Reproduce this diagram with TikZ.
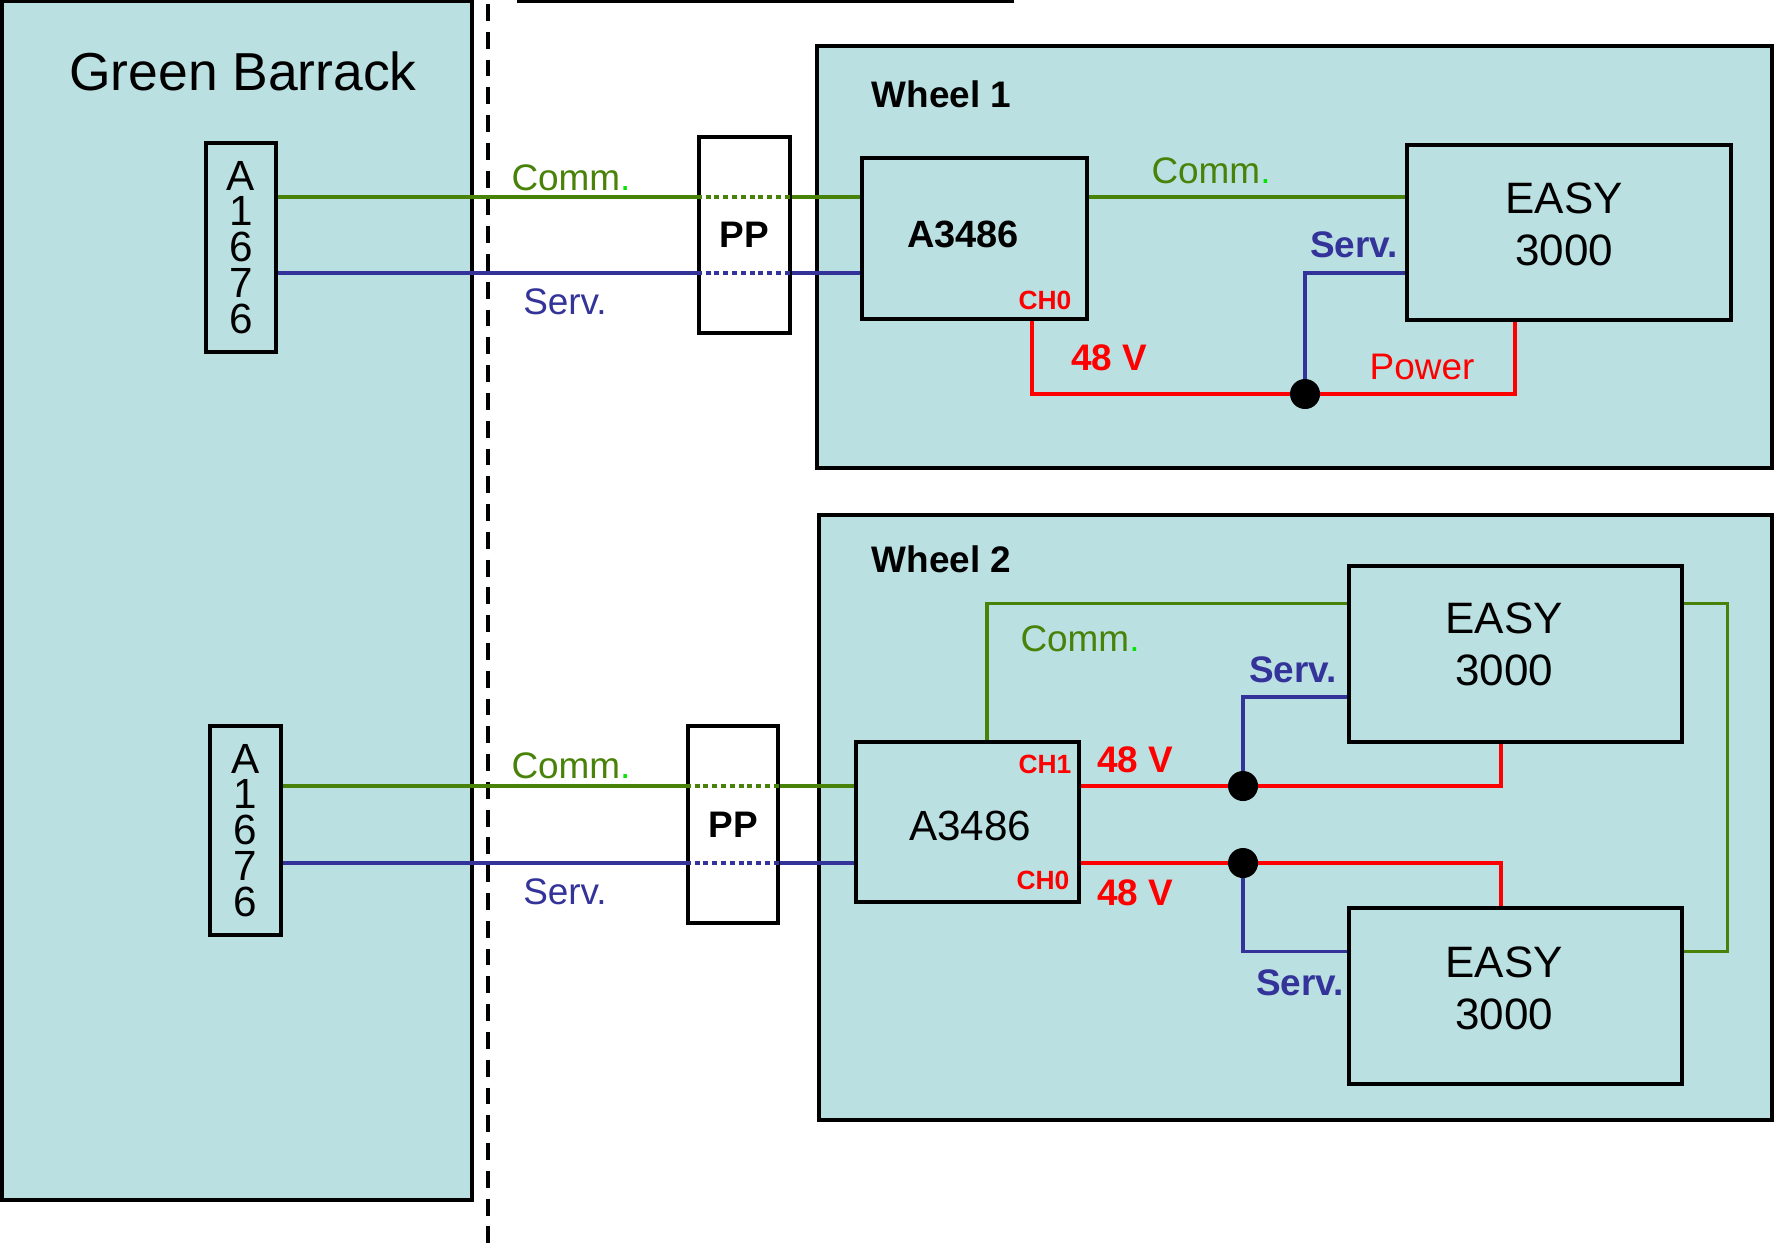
\documentclass[tikz,border=0pt]{standalone}
\usepackage{fontspec}
\setmainfont{Liberation Sans}
\usetikzlibrary{calc}

\definecolor{panelfill}{RGB}{186,224,226}
\definecolor{commgreen}{RGB}{72,130,8}
\definecolor{commdot}{RGB}{0,230,0}
\definecolor{servblue}{RGB}{51,51,153}
\definecolor{powred}{RGB}{255,0,0}

\newcommand{\commtxt}{Comm{\color{commdot}.}}

\begin{document}
\begin{tikzpicture}[x=0.01cm, y=-0.01cm,
  panel/.style={draw=black, fill=panelfill, line width=1.2pt, rectangle, inner sep=0pt},
  unit/.style={draw=black, fill=panelfill, line width=1.2pt, rectangle, inner sep=0pt},
  ppbox/.style={draw=black, fill=white, line width=1.2pt, rectangle, inner sep=0pt, font=\fontsize{10.5}{12}\selectfont\bfseries},
  wheeltitle/.style={inner sep=0pt, anchor=west, font=\fontsize{10.5}{12}\selectfont\bfseries},
  easytxt/.style={inner sep=0pt, align=center, font=\fontsize{12.5}{14.8}\selectfont},
  comm/.style={commgreen, line width=0.9pt},
  serv/.style={servblue, line width=0.9pt},
  pwr/.style={powred, line width=0.9pt},
  thru/.style={dash pattern=on 1.4pt off 1.1pt},
  commlbl/.style={inner sep=0pt, text=commgreen, font=\fontsize{10.5}{12}\selectfont},
  servlbl/.style={inner sep=0pt, text=servblue, font=\fontsize{10.5}{12}\selectfont},
  servbold/.style={inner sep=0pt, text=servblue, font=\fontsize{10.5}{12}\selectfont\bfseries},
  voltlbl/.style={inner sep=0pt, text=powred, font=\fontsize{10.5}{12}\selectfont\bfseries},
  powlbl/.style={inner sep=0pt, text=powred, font=\fontsize{10.5}{12}\selectfont},
  chtag/.style={inner sep=0pt, text=powred, font=\fontsize{7.5}{9}\selectfont\bfseries},
  junction/.style={circle, fill=black, inner sep=0pt, minimum size=0.3cm}]
  \useasboundingbox (0,0) rectangle (1774,1251);

  % barrack side
  \node[panel, minimum width=4.70cm, minimum height=11.99cm] (barrack) at (237,600.5) {};
  \node[inner sep=0pt, font=\fontsize{15.2}{18}\selectfont] (barracktitle) at (243,71) {Green Barrack};
  \node[unit, minimum width=0.70cm, minimum height=2.09cm, align=center, font=\fontsize{12}{10.2}\selectfont] (crateA) at (241,247.5) {A\\1\\6\\7\\6};
  \node[unit, minimum width=0.71cm, minimum height=2.09cm, align=center, font=\fontsize{12}{10.2}\selectfont] (crateB) at (245.5,830.5) {A\\1\\6\\7\\6};
  \draw[line width=0.9pt, dash pattern=on 4.8pt off 3.1pt] (488,4) -- (488,1251);
  \draw[line width=1.2pt] (517,1) -- (1014,1);

  % wheels
  \node[panel, minimum width=9.55cm, minimum height=4.22cm] (wheelA) at (1294.5,257) {};
  \node[panel, minimum width=9.53cm, minimum height=6.05cm] (wheelB) at (1295.5,817.5) {};
  \node[wheeltitle] (wheelAtitle) at (871,94) {Wheel 1};
  \node[wheeltitle] (wheelBtitle) at (871,559) {Wheel 2};

  \node[ppbox, minimum width=0.91cm, minimum height=1.96cm] (ppA) at (744.5,235) {PP};
  \node[ppbox, minimum width=0.90cm, minimum height=1.97cm] (ppB) at (733,824.5) {PP};

  \node[unit, minimum width=2.25cm, minimum height=1.61cm] (ctrlA) at (974.5,238.5) {};
  \node[inner sep=0pt, font=\fontsize{10.8}{12}\selectfont\bfseries] (ctrlAname) at (963,234) {A3486};
  \node[unit, minimum width=2.23cm, minimum height=1.60cm] (ctrlB) at (967.5,822) {};
  \node[inner sep=0pt, font=\fontsize{12}{14}\selectfont] (ctrlBname) at (970,826) {A3486};

  \node[unit, minimum width=3.24cm, minimum height=1.75cm] (easyA) at (1569,232.5) {};
  \node[easytxt] (easyAname) at (1564,224) {EASY\\3000};
  \node[unit, minimum width=3.33cm, minimum height=1.76cm] (easyB1) at (1515.5,654) {};
  \node[easytxt] (easyB1name) at (1504,644) {EASY\\3000};
  \node[unit, minimum width=3.33cm, minimum height=1.76cm] (easyB2) at (1515.5,996) {};
  \node[easytxt] (easyB2name) at (1504,988) {EASY\\3000};

  \coordinate (rowAc) at (0,197);
  \coordinate (rowAs) at (0,273);
  \coordinate (rowBc) at (0,786);
  \coordinate (rowBs) at (0,863);
  \coordinate (jA) at (1305,394);
  \coordinate (jB1) at (1243,786);
  \coordinate (jB2) at (1243,863);

  % upper link
  \draw[comm] (crateA.east |- rowAc) -- (ppA.west |- rowAc);
  \draw[comm, thru] (ppA.west |- rowAc) -- (ppA.east |- rowAc);
  \draw[comm] (ppA.east |- rowAc) -- (ctrlA.west |- rowAc);
  \draw[comm] (ctrlA.east |- rowAc) -- (easyA.west |- rowAc);
  \draw[serv] (crateA.east |- rowAs) -- (ppA.west |- rowAs);
  \draw[serv, thru] (ppA.west |- rowAs) -- (ppA.east |- rowAs);
  \draw[serv] (ppA.east |- rowAs) -- (ctrlA.west |- rowAs);
  \draw[serv] (easyA.west |- rowAs) -| (jA);
  \draw[pwr] ([xshift=0.575cm]ctrlA.south) |- (jA) -| ([xshift=-0.54cm]easyA.south);
  \node[junction] (dotA) at (jA) {};

  % lower link
  \draw[comm] (crateB.east |- rowBc) -- (ppB.west |- rowBc);
  \draw[comm, thru] (ppB.west |- rowBc) -- (ppB.east |- rowBc);
  \draw[comm] (ppB.east |- rowBc) -- (ctrlB.west |- rowBc);
  \draw[serv] (crateB.east |- rowBs) -- (ppB.west |- rowBs);
  \draw[serv, thru] (ppB.west |- rowBs) -- (ppB.east |- rowBs);
  \draw[serv] (ppB.east |- rowBs) -- (ctrlB.west |- rowBs);
  \draw[comm] ([xshift=0.195cm]ctrlB.north) |- ([yshift=-0.4cm]easyB1.north west);
  \draw[comm] ([yshift=-0.4cm]easyB1.north east) -- ++(0.43cm,0) |- ([yshift=-0.46cm]easyB2.north east);
  \draw[pwr] (ctrlB.east |- rowBc) -- (jB1) -| ([xshift=-0.145cm]easyB1.south);
  \draw[pwr] (ctrlB.east |- rowBs) -- (jB2) -| ([xshift=-0.145cm]easyB2.north);
  \draw[serv] (jB1) |- ([yshift=-0.43cm]easyB1.west);
  \draw[serv] (jB2) |- ([yshift=-0.46cm]easyB2.north west);
  \node[junction] (dotB1) at (jB1) {};
  \node[junction] (dotB2) at (jB2) {};

  % labels
  \node[commlbl] (commAtxt) at (571,178) {\commtxt};
  \node[servlbl] (servAtxt) at (565,302) {Serv.};
  \node[commlbl] (commBtxt) at (571,766) {\commtxt};
  \node[servlbl] (servBtxt) at (565,892) {Serv.};
  \node[commlbl] (commAin) at (1211,171) {\commtxt};
  \node[servbold] (servAin) at (1354,245) {Serv.};
  \node[chtag] (chAzero) at (1045,300) {CH0};
  \node[voltlbl] (voltA) at (1109,358) {48 V};
  \node[powlbl] (powA) at (1422,367) {Power};
  \node[commlbl] (commBin) at (1080,639) {\commtxt};
  \node[servbold] (servBone) at (1293,670) {Serv.};
  \node[chtag] (chBone) at (1045,764) {CH1};
  \node[voltlbl] (voltBone) at (1135,760) {48 V};
  \node[chtag] (chBzero) at (1043,880) {CH0};
  \node[voltlbl] (voltBzero) at (1135,893) {48 V};
  \node[servbold] (servBtwo) at (1300,983) {Serv.};
\end{tikzpicture}
\end{document}
